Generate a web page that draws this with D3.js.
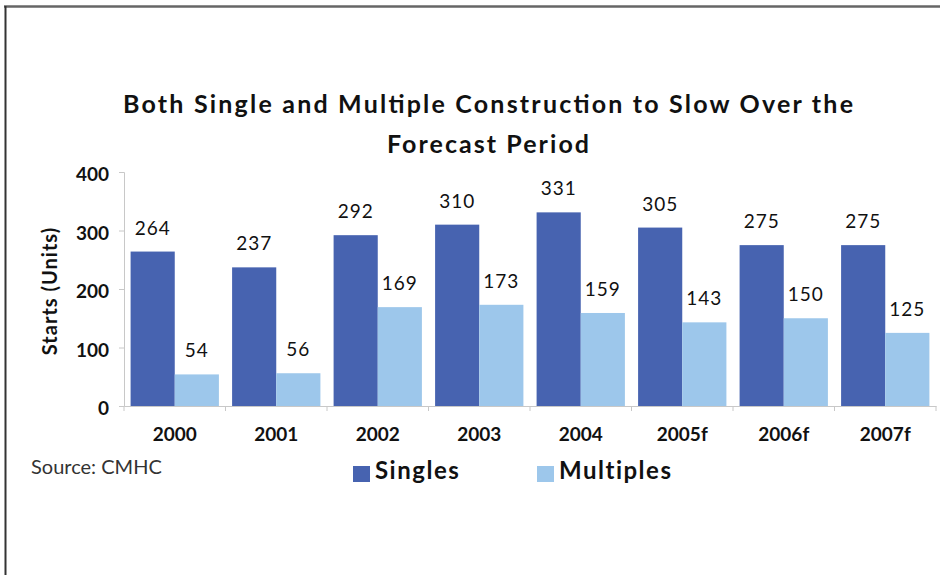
<!DOCTYPE html>
<html>
<head>
<meta charset="utf-8">
<script src="https://cdn.jsdelivr.net/npm/d3@7"></script>
<style>
  html, body { margin: 0; padding: 0; background: #fff; }
  svg { display: block; }
  text { font-family: Lato, "Open Sans", sans-serif; fill: #111; }
</style>
</head>
<body>
<div id="chart"></div>
<script>
// data
const years = ['2000', '2001', '2002', '2003', '2004', '2005f', '2006f', '2007f'];
const singles = [264, 237, 292, 310, 331, 305, 275, 275];
const multiples = [54, 56, 169, 173, 159, 143, 150, 125];
const seriesNames = ['Singles', 'Multiples'];
const yTicks = [0, 100, 200, 300, 400];
const titleLines = ['Both Single and Multiple Construction to Slow Over the', 'Forecast Period'];

const width = 940, height = 575;
const colors = { Singles: '#4763b0', Multiples: '#9dc7eb' };
const titleWidths = [730, 202];

const svg = d3.select('#chart')
    .append('svg')
    .attr('width', width)
    .attr('height', height);

// frame lines (top and left edge of scanned page)
svg.append('line')
    .attr('x1', 4).attr('x2', width).attr('y1', 6.5).attr('y2', 6.5)
    .attr('stroke', '#666').attr('stroke-width', 2.5);
svg.append('line')
    .attr('x1', 5.5).attr('x2', 5.5).attr('y1', 6).attr('y2', height)
    .attr('stroke', '#333').attr('stroke-width', 2);

// title
svg.append('g')
    .selectAll('text')
    .data(titleLines)
    .enter()
    .append('text')
    .attr('x', 488)
    .attr('y', (d, i) => 113 + i * 40)
    .attr('text-anchor', 'middle')
    .attr('font-size', 25)
    .attr('font-weight', 'bold')
    .attr('textLength', (d, i) => titleWidths[i])
    .attr('lengthAdjust', 'spacing')
    .text(d => d);

const x = d3.scaleBand()
    .domain(years)
    .range([124, 936])
    .paddingInner(0.13)
    .paddingOuter(0.065);

const xSeries = d3.scaleBand()
    .domain(seriesNames)
    .range([0, x.bandwidth()]);

const y = d3.scaleLinear()
    .domain([0, 400])
    .range([406, 172]);

// y axis
const yAxis = svg.append('g')
    .attr('transform', 'translate(124,0)')
    .call(d3.axisLeft(y).tickValues(yTicks).tickSize(5).tickPadding(10));
yAxis.select('.domain').attr('stroke', '#c8c8c8');
yAxis.selectAll('.tick line').attr('stroke', '#c8c8c8');
yAxis.selectAll('.tick text')
    .attr('font-size', 19)
    .attr('font-weight', 'bold')
    .attr('dy', '0.45em')
    .style('font-family', 'Lato, sans-serif')
    .attr('fill', '#111');

// x axis, ticks between categories
const xAxis = svg.append('g')
    .attr('transform', 'translate(0,406)')
    .call(d3.axisBottom(x).tickSize(0).tickPadding(22));
xAxis.select('.domain').attr('stroke', '#c8c8c8');
xAxis.selectAll('.tick text')
    .attr('font-size', 19)
    .attr('font-weight', 'bold')
    .style('font-family', 'Lato, sans-serif')
    .attr('fill', '#111');
const step = x.step();
xAxis.append('g')
    .selectAll('line')
    .data(d3.range(years.length + 1))
    .enter()
    .append('line')
    .attr('x1', i => 124 + i * step)
    .attr('x2', i => 124 + i * step)
    .attr('y1', 0).attr('y2', 5)
    .attr('stroke', '#c8c8c8');

// bars
const rows = years.map((yr, i) => ({ year: yr, Singles: singles[i], Multiples: multiples[i] }));

const groups = svg.append('g')
    .selectAll('g')
    .data(rows)
    .enter()
    .append('g')
    .attr('transform', d => `translate(${x(d.year)},0)`);

groups.selectAll('rect')
    .data(d => seriesNames.map(s => ({ key: s, value: d[s] })))
    .enter()
    .append('rect')
    .attr('x', d => xSeries(d.key))
    .attr('y', d => y(d.value))
    .attr('width', xSeries.bandwidth())
    .attr('height', d => y(0) - y(d.value))
    .attr('fill', d => colors[d.key]);

groups.selectAll('text.val')
    .data(d => seriesNames.map(s => ({ key: s, value: d[s] })))
    .enter()
    .append('text')
    .attr('class', 'val')
    .attr('x', d => xSeries(d.key) + xSeries.bandwidth() / 2)
    .attr('y', d => y(d.value) - 17)
    .attr('text-anchor', 'middle')
    .attr('font-size', 19)
    .attr('letter-spacing', 1)
    .text(d => d.value);

// y axis title
svg.append('text')
    .attr('transform', 'translate(50,291) rotate(-90)')
    .attr('text-anchor', 'middle')
    .attr('dy', '0.35em')
    .attr('font-size', 20)
    .attr('font-weight', 'bold')
    .attr('letter-spacing', 1)
    .text('Starts (Units)');

// source
svg.append('text')
    .attr('x', 31)
    .attr('y', 474)
    .attr('font-size', 20)
    .style('fill', '#333')
    .text('Source: CMHC');

// legend
const legendX = [353, 537];
const legend = svg.append('g')
    .selectAll('g')
    .data(seriesNames)
    .enter()
    .append('g')
    .attr('transform', (d, i) => `translate(${legendX[i]},466)`);
legend.append('rect')
    .attr('width', 17).attr('height', 16)
    .attr('fill', d => colors[d]);
legend.append('text')
    .attr('x', 22)
    .attr('y', 13)
    .attr('font-size', 24)
    .attr('font-weight', 'bold')
    .attr('letter-spacing', 1.5)
    .text(d => d);
</script>
</body>
</html>
